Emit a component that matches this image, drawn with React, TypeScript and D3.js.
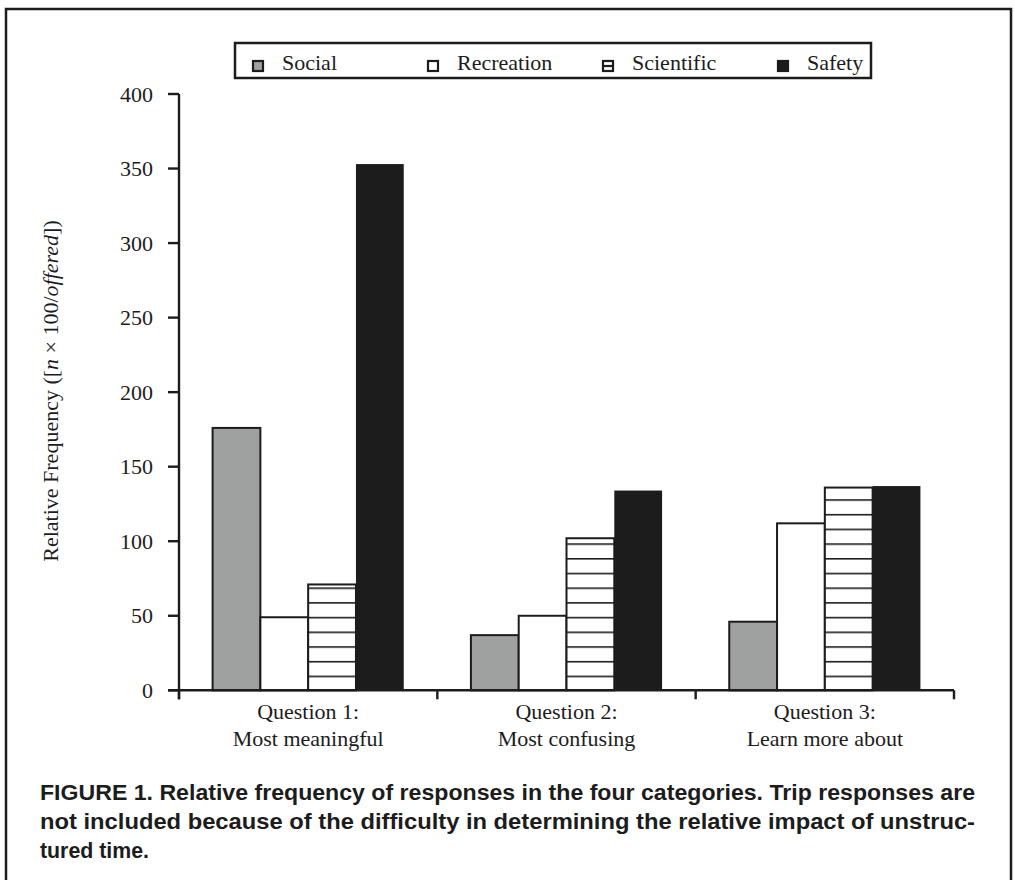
import { useEffect, useRef } from 'react'
import * as d3 from 'd3'

const questions = ['Question 1:|Most meaningful', 'Question 2:|Most confusing', 'Question 3:|Learn more about']
const categories = ['Social', 'Recreation', 'Scientific', 'Safety']
const social = [176, 37, 46]
const recreation = [49, 50, 112]
const scientific = [71, 102, 136]
const safety = [353, 134, 137]
const yTicks = [0, 50, 100, 150, 200, 250, 300, 350, 400]
const caption = [
  'FIGURE 1. Relative frequency of responses in the four categories. Trip responses are',
  'not included because of the difficulty in determining the relative impact of unstruc-',
  'tured time.',
]

const W = 1015
const H = 880
const ink = '#1c1c1c'
const serif = "'Liberation Serif', 'Times New Roman', serif"

export default function App() {
  const ref = useRef<SVGSVGElement>(null)

  useEffect(() => {
    if (!ref.current) return
    const svg = d3.select(ref.current)
    svg.selectAll('*').remove()

    const series = [social, recreation, scientific, safety]
    const fills = ['#9fa0a0', '#ffffff', 'url(#hatch)', ink]

    const left = 179, right = 954, top = 94, bottom = 690.3

    const x0 = d3.scaleBand<string>().domain(questions).range([left, right]).paddingInner(0.26).paddingOuter(0.13)
    const x1 = d3.scaleBand<string>().domain(categories).range([0, x0.bandwidth()])
    const y = d3.scaleLinear().domain([0, 400]).range([bottom, top])

    // hatch pattern for Scientific
    const defs = svg.append('defs')
    const pat = defs.append('pattern')
      .attr('id', 'hatch')
      .attr('patternUnits', 'userSpaceOnUse')
      .attr('width', 10)
      .attr('height', 14.7)
      .attr('y', bottom)
    pat.append('rect').attr('width', 10).attr('height', 14.7).attr('fill', '#fff')
    pat.append('line')
      .attr('x1', 0).attr('x2', 10).attr('y1', 0.5).attr('y2', 0.5)
      .attr('stroke', ink).attr('stroke-width', 2.2)

    // outer frame
    svg.append('rect')
      .attr('x', 6).attr('y', 9).attr('width', 1005).attr('height', 890)
      .attr('fill', 'none').attr('stroke', ink).attr('stroke-width', 2.5)

    // bars
    const g = svg.append('g')
    questions.forEach((q, qi) => {
      categories.forEach((c, ci) => {
        const v = series[ci][qi]
        g.append('rect')
          .attr('x', x0(q)! + x1(c)!)
          .attr('y', y(v))
          .attr('width', x1.bandwidth())
          .attr('height', y(0) - y(v))
          .attr('fill', fills[ci])
          .attr('stroke', ink)
          .attr('stroke-width', ci === 3 ? 0 : 2)
      })
    })

    // axes
    const axis = svg.append('g').attr('stroke', ink).attr('stroke-width', 2.4)
    axis.append('line').attr('x1', left).attr('x2', left).attr('y1', y(400)).attr('y2', bottom + 9)
    axis.append('line').attr('x1', left - 11).attr('x2', right).attr('y1', bottom).attr('y2', bottom)
    yTicks.forEach(t => {
      axis.append('line').attr('x1', left - 11).attr('x2', left).attr('y1', y(t)).attr('y2', y(t))
      svg.append('text')
        .attr('x', 153).attr('y', y(t)).attr('dy', '0.35em')
        .attr('text-anchor', 'end')
        .attr('font-family', serif).attr('font-size', 22).attr('fill', ink)
        .text(t)
    })

    // x ticks at band boundaries
    d3.range(questions.length + 1).forEach(i => {
      const xt = left + i * x0.step()
      axis.append('line').attr('x1', xt).attr('x2', xt).attr('y1', bottom).attr('y2', bottom + 9)
    })

    // x labels
    questions.forEach(q => {
      const [l1, l2] = q.split('|')
      const cx = x0(q)! + x0.bandwidth() / 2
      const t = svg.append('text')
        .attr('text-anchor', 'middle')
        .attr('font-family', serif).attr('font-size', 22).attr('fill', ink)
      t.append('tspan').attr('x', cx).attr('y', 719).text(l1)
      t.append('tspan').attr('x', cx).attr('y', 746).text(l2)
    })

    // y axis title
    const yt = svg.append('text')
      .attr('transform', 'translate(58,391) rotate(-90)')
      .attr('text-anchor', 'middle')
      .attr('font-family', serif).attr('font-size', 22).attr('fill', ink)
    yt.append('tspan').text('Relative Frequency ([')
    yt.append('tspan').attr('font-style', 'italic').text('n')
    yt.append('tspan').text(' × 100/')
    yt.append('tspan').attr('font-style', 'italic').text('offered')
    yt.append('tspan').text('])')

    // legend
    svg.append('rect')
      .attr('x', 235).attr('y', 43).attr('width', 636).attr('height', 35)
      .attr('fill', '#fff').attr('stroke', ink).attr('stroke-width', 2.5)
    const lx = d3.scaleBand<string>().domain(categories).range([245, 945])
    categories.forEach((c, ci) => {
      const mx = lx(c)! + 8
      const lg = svg.append('g')
      lg.append('rect')
        .attr('x', mx).attr('y', 61).attr('width', 10).attr('height', 10)
        .attr('fill', ci === 2 ? '#fff' : fills[ci])
        .attr('stroke', ink).attr('stroke-width', 2.2)
      if (ci === 2) {
        lg.append('line').attr('x1', mx).attr('x2', mx + 10).attr('y1', 66).attr('y2', 66)
          .attr('stroke', ink).attr('stroke-width', 2.2)
      }
      lg.append('text')
        .attr('x', mx + 29).attr('y', 70)
        .attr('font-family', serif).attr('font-size', 22).attr('fill', ink)
        .text(c)
    })

    // caption
    const widths = [935, 935, 109]
    caption.forEach((line, i) => {
      svg.append('text')
        .attr('x', 40).attr('y', 800 + i * 29)
        .attr('font-family', "'Liberation Sans', Arial, sans-serif")
        .attr('font-weight', 'bold').attr('font-size', 22).attr('fill', ink)
        .attr('textLength', widths[i]).attr('lengthAdjust', 'spacingAndGlyphs')
        .text(line)
    })
  }, [])

  return (
    <div style={{ position: 'absolute', left: 0, top: 0, width: W, height: H, background: '#fff' }}>
      <svg ref={ref} width={W} height={H} />
    </div>
  )
}
